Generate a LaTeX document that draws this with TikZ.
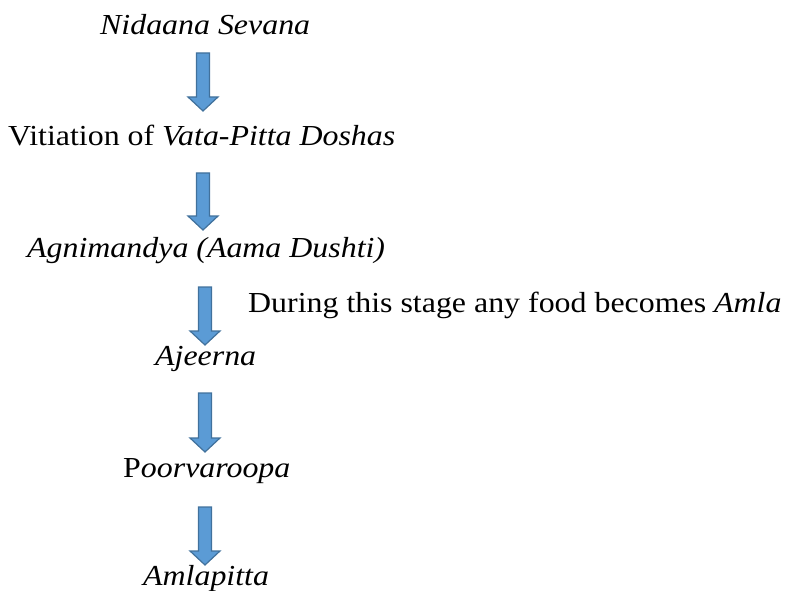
\documentclass[tikz,border=0pt]{standalone}
\usepackage{fontspec}
\setmainfont[FakeStretch=1.1]{Liberation Serif}
\usetikzlibrary{calc}
\definecolor{arrowfill}{HTML}{5B9BD5}
\definecolor{arrowline}{HTML}{41719C}
\def\shaft{6.5}
\def\head{15}
\def\tip{14}
\tikzset{
  stagetext/.style={anchor=base west,inner sep=0pt,font=\fontsize{29}{35}\selectfont},
  blockarrow/.style={fill=arrowfill,draw=arrowline,line width=1.2pt,line join=miter}
}
\newcommand\stagearrow[2]{%
  \draw[blockarrow] (#1) ++(-\shaft,0) -- ++(2*\shaft,0) |- ($(#2)+(\head,-\tip)$)
    -- (#2) -- ($(#2)+(-\head,-\tip)$) -- ($(#2)+(-\shaft,-\tip)$) -- cycle;}
\begin{document}
\begin{tikzpicture}[x=1pt,y=-1pt]
  \useasboundingbox (0,0) rectangle (785,591);

  % Stages
  \node[stagetext] (nidaana) at (100,35) {\textit{Nidaana Sevana}};
  \node[stagetext] (vitiation) at (8,146) {Vitiation of \textit{Vata-Pitta Doshas}};
  \node[stagetext] (agni) at (27,257) {\textit{Agnimandya (Aama Dushti)}};
  \node[stagetext] (during) at (248,312) {During this stage any food becomes \textit{Amla}};
  \node[stagetext] (ajeerna) at (155,365) {\textit{Ajeerna}};
  \node[stagetext] (poorva) at (123,477) {P\textit{oorvaroopa}};
  \node[stagetext] (amla) at (143,585) {\textit{Amlapitta}};

  % Arrow ends
  \coordinate (a1) at (203,53);  \coordinate (b1) at (203,111);
  \coordinate (a2) at (203,173); \coordinate (b2) at (203,230);
  \coordinate (a3) at (205,287); \coordinate (b3) at (205,345);
  \coordinate (a4) at (205,393); \coordinate (b4) at (205,452);
  \coordinate (a5) at (205,507); \coordinate (b5) at (205,565);

  \foreach \i in {1,...,5}
    {\stagearrow{a\i}{b\i}}

\end{tikzpicture}
\end{document}
